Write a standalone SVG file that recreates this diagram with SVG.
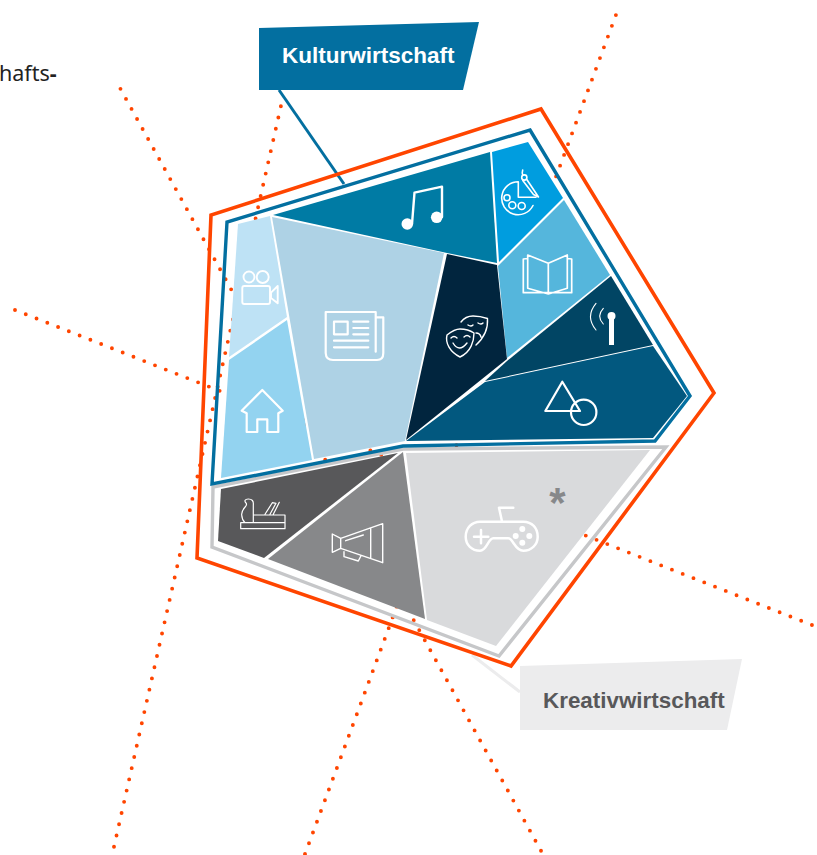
<svg xmlns="http://www.w3.org/2000/svg" width="817" height="855" viewBox="0 0 817 855">
<style>
.dots{fill:none;stroke:#ff4500;stroke-width:3.9;stroke-linecap:round;stroke-dasharray:0 11.5}
.ic{fill:none;stroke:#fff;stroke-width:2.2;stroke-linejoin:round;stroke-linecap:round}
.lab{font-family:"Liberation Sans",Arial,sans-serif;font-weight:700}
</style>
<rect width="817" height="855" fill="#fff"/>
<text x="-1" y="80.5" font-family="'Noto Sans',sans-serif" font-size="21.5" fill="#222">hafts<tspan font-weight="700">-</tspan></text>
<g id="connectors">
<path class="dots" style="stroke-dasharray:0 11.45" d="M541 850.7L120 88"/>
<path class="dots" d="M114 846.7L281.5 103.5"/>
<path class="dots" style="stroke-dasharray:0 11.47" d="M305 854L616.3 14"/>
<path class="dots" style="stroke-dasharray:0 11.58" d="M15 310L812 625"/>
<path d="M279 90L344 184" fill="none" stroke="#036fa0" stroke-width="3"/>
<path d="M472 655L520 692" fill="none" stroke="#ececed" stroke-width="3"/>
</g>
<g id="gaps" fill="none" stroke="#fff" stroke-width="5">
<path d="M405 441L447 253M272 216L314 460M229 358L288 318M272 216L497 264M491 152L498 264L507 359L405 441M498 264L564 199M507 359L611 275M405 450L426 620M266 559L403 452"/>
</g>
<g id="seg-music"><polygon points="273,215 490,152 497,263 447,253" fill="#007ba4"/><path class="ic" style="stroke-width:2.4" d="M412 224L414.5 192.7L442 186.7L442 217"/><circle cx="407.3" cy="224" r="5.8" fill="#fff"/><circle cx="436.7" cy="217.3" r="5.8" fill="#fff"/></g>
<g id="seg-palette"><polygon points="492,152 528,142 563,198 499,262" fill="#009ddf"/><g class="ic" style="stroke-width:1.6"><path d="M518.3 181.7A16.5 16.5 0 1 0 533 205.5M518.3 181.7V197.3H536"/><circle cx="507" cy="197.7" r="3"/><circle cx="512.3" cy="205.3" r="3.5"/><circle cx="521.7" cy="206" r="3.5"/><path d="M526.8 179.5L538.5 197L533.5 194.5L522.8 180.5"/><circle cx="524.3" cy="177.5" r="2.6"/><path d="M522.8 175C522 173 522.2 171.5 522.7 170"/></g></g>
<g id="seg-book"><polygon points="564,200 610,275 507,358 498,266" fill="#55b6dc"/><path class="ic" style="stroke-width:1.7" d="M527.7 258.5L523.3 259V292.7H571.7V259L567.3 258.5M527.7 255L548.3 263.3L567.3 255V288.3L548.3 294L527.7 288.3ZM548.3 263.3V294"/></g>
<g id="seg-radio"><polygon points="611,276 653,345 485,381 507,361" fill="#014564"/><rect x="609" y="316" width="5" height="29" fill="#fff"/><circle cx="611.5" cy="316" r="4" fill="#fff"/><path class="ic" style="stroke-width:1.1" d="M596 303.3Q585 316.5 596 330M603.3 308.3Q596 316 603.3 324"/></g>
<g id="seg-shapes"><polygon points="653,346 687,396 653,438 406,441 485,382" fill="#02587f"/><g class="ic" style="stroke-width:2.2"><path d="M562.3 381.7L580 411H545.3Z"/><circle cx="583.7" cy="412.3" r="12.7"/></g></g>
<g id="seg-theatre"><polygon points="447,254 497,265 507,359 406,440" fill="#01253e"/><g class="ic" style="stroke-width:1.4"><path d="M447 335C452 331 456 329 460 329C466 329 471 331 474 333C474 341 471 352 460 357C450 352 445 343 447 335Z"/><path d="M461 322C464 318 468 316 473 316C478 316 483 317 487.5 318.5C488 326 486 336 476 345M451 338Q454 335 457 338M464 337Q467 334 470 337M453 343Q459 353 467 343M468 325Q471 327 473 325M478 323Q481 325 483 323M476 333Q480 333 481 337"/></g></g>
<g id="seg-news"><polygon points="272,217 444,253 405,441 314,459" fill="#aed2e5"/><g class="ic"><path d="M375.7 351.7V312H325.7V353Q326 360 333 360H377Q383.3 360 383.3 353V317.3H375.7"/><rect x="334" y="321.7" width="13.7" height="12.6"/><path d="M353.3 321.7H368.3M353.3 328H368.3M353.3 334.3H368.3M334 340.7H368.3M334 347.3H368.3"/></g></g>
<g id="seg-film"><polygon points="238,224 270,216 287,317 229,357" fill="#bee2f5"/><g class="ic" style="stroke-width:1.9"><circle cx="249" cy="277" r="5.5"/><circle cx="262.7" cy="277" r="6"/><rect x="242.3" y="286" width="27.7" height="18" rx="2"/><path d="M271 292.7L277.7 286V303.3L271 298Z"/></g></g>
<g id="seg-house"><polygon points="287,320 312,460 221,478 229,360" fill="#93d3f0"/><path class="ic" d="M262.3 390L282.7 410.7L278.3 413.3V432H267.3V419.3H257.3V432H246.7V413.3L241.7 410.7Z"/></g>
<g id="seg-plane"><polygon points="221,489 398,453 264,558 218,541" fill="#58585a"/><g class="ic" style="stroke-width:1.2"><path d="M240.7 522.7H285V528.7H240.7ZM253.3 522.7V515H285V522.7M253.3 515V505Q254 499 248.3 499C245 499 244 501 246 503C249 506 241 508 241.7 515Q242 520 245 522.7M265 514.3L272.3 502.7L276 503.3L270 514.3M273.3 514.3L279.3 502.3"/></g></g>
<g id="seg-horn"><polygon points="403,452 425,619 268,559" fill="#87888a"/><g class="ic" style="stroke-width:1.4"><path d="M332.3 534L340.7 538.3V548.3L332.3 552.3ZM340.7 538.3L382.7 523.7V562.7L340.7 548.3M370.7 528.3V558.3M345.7 540.7L363.3 535M344 551.7V556.7L358.3 561L361 555.7"/></g></g>
<g id="seg-game"><polygon points="406,453 650,450 496,646 427,620" fill="#d9dadc"/><g class="ic" style="stroke-width:2.5"><path d="M480 521.7H523.3C532 521.7 537.7 528 537.7 536.7C537.7 545 531 550.7 523.3 550.7C515 550.7 513 538.3 508.3 538.3H493.3C488 538.3 487 550.7 480 550.7C472 550.7 465.7 545 465.7 536.7C465.7 528 472 521.7 480 521.7ZM501.7 520L499 507.7H513.3M474 536.7H488.3M481 530V543.3"/></g><g fill="#fff"><circle cx="522.3" cy="529" r="3"/><circle cx="515.7" cy="536" r="3"/><circle cx="529.3" cy="536" r="3"/><circle cx="522.3" cy="542.7" r="3"/></g><text class="lab" x="557.5" y="517" font-size="42" text-anchor="middle" fill="#87888a">*</text></g>
<g id="outlines" fill="none" stroke-linejoin="miter">
<polygon id="outline-kreativ" points="666,447 499,656 212,547 213,487 403,449" stroke="#c6c7c9" stroke-width="3.4"/>
<polygon id="outline-kultur" points="530,130 690,396 655,441 403,446 212,484 227,222" stroke="#036fa0" stroke-width="3.4"/>
<polygon id="outline-all" points="541,109 714,393 511,666 197,558 211,215" stroke="#ff4500" stroke-width="3.6"/>
</g>
<g id="label-kultur"><polygon points="259,28 479,22 463,90 259,90" fill="#036fa0"/><text class="lab" x="282" y="63" font-size="22.5" fill="#fff">Kulturwirtschaft</text></g>
<g id="label-kreativ"><polygon points="520,666 742,659 727,730 520,730" fill="#ececed"/><text class="lab" x="543" y="708" font-size="22.4" fill="#58585a">Kreativwirtschaft</text></g>
</svg>
